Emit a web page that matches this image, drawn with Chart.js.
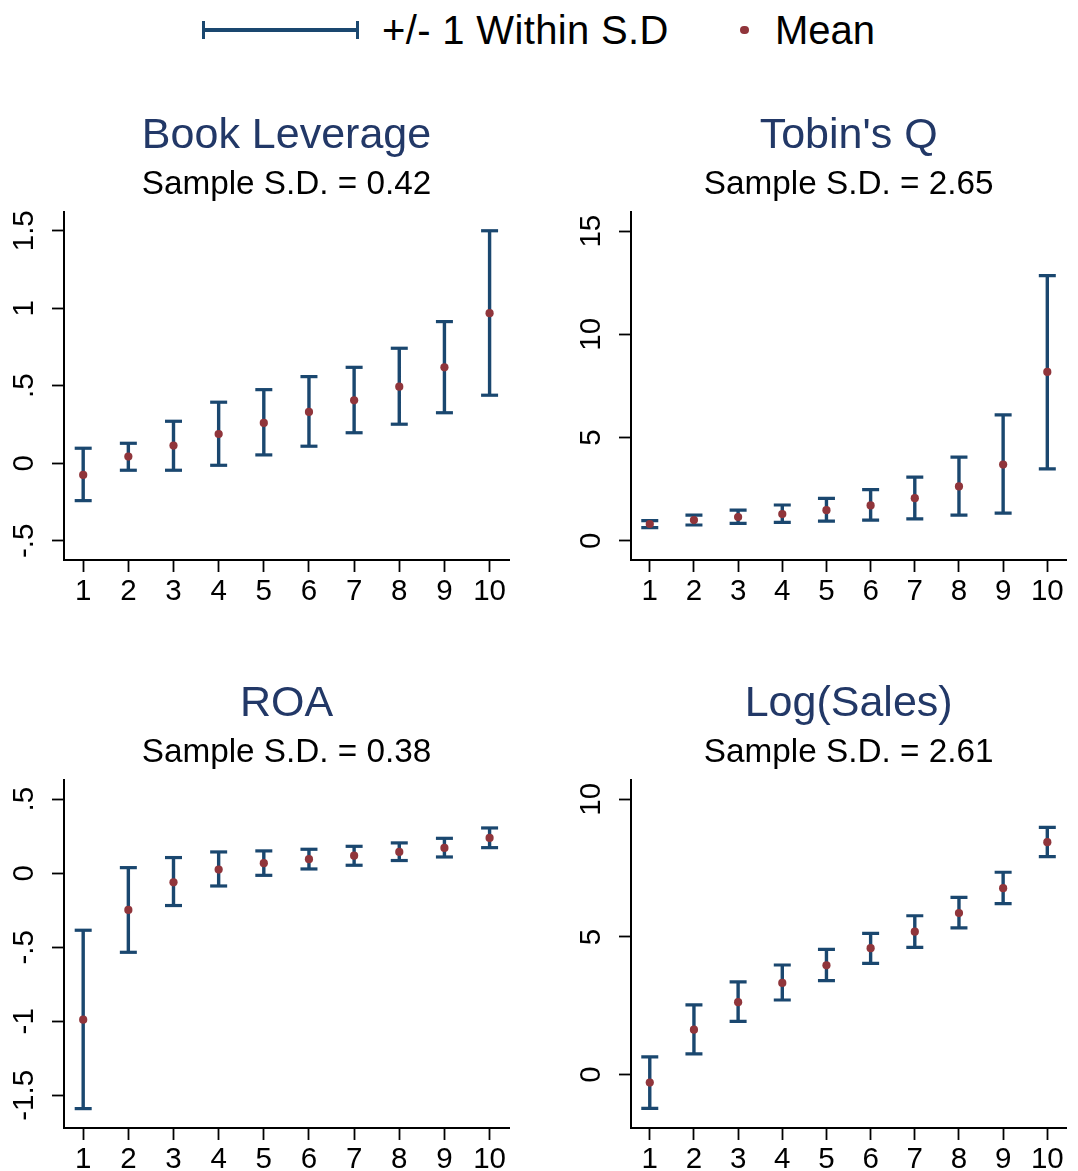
<!DOCTYPE html>
<html>
<head>
<meta charset="utf-8">
<script src="https://cdn.jsdelivr.net/npm/chart.js@4.4.1/dist/chart.umd.min.js"></script>
<style>
html, body { margin:0; padding:0; background:#fff; width:1078px; height:1171px; overflow:hidden; }
body { position:relative; font-family:"Liberation Sans", Arial, sans-serif; }
canvas { position:absolute; }
.leg { position:absolute; font-size:40px; line-height:40px; color:#000; white-space:nowrap; }
.sym { position:absolute; background:#1a476f; }
</style>
</head>
<body>
<div class="sym" style="left:202px;top:28px;width:157px;height:4px;"></div>
<div class="sym" style="left:202px;top:21px;width:3px;height:18px;"></div>
<div class="sym" style="left:356px;top:21px;width:3px;height:18px;"></div>
<div class="leg" style="left:382px;top:10px;letter-spacing:0.35px;">+/- 1 Within S.D</div>
<div style="position:absolute;left:740px;top:25.7px;width:8.6px;height:8.6px;border-radius:50%;background:#90353b;"></div>
<div class="leg" style="left:775px;top:10px;">Mean</div>

<canvas id="c1" width="539" height="503" style="left:0px;top:100px;"></canvas>
<canvas id="c2" width="539" height="503" style="left:539px;top:100px;"></canvas>
<canvas id="c3" width="539" height="503" style="left:0px;top:668px;"></canvas>
<canvas id="c4" width="539" height="503" style="left:539px;top:668px;"></canvas>

<script>
// ---------- data ----------
const categories = [1, 2, 3, 4, 5, 6, 7, 8, 9, 10];
const xTickLabels = ["1", "2", "3", "4", "5", "6", "7", "8", "9", "10"];

const bookLevMean = [-0.075, 0.043, 0.114, 0.189, 0.260, 0.331, 0.406, 0.494, 0.619, 0.968];
const bookLevLow  = [-0.241, -0.045, -0.045, -0.013, 0.054, 0.110, 0.197, 0.252, 0.326, 0.439];
const bookLevHigh = [0.097, 0.129, 0.271, 0.394, 0.475, 0.559, 0.619, 0.742, 0.914, 1.500];
const bookLevTicks = [-0.5, 0, 0.5, 1, 1.5];
const bookLevTickLabels = ["-.5", "0", ".5", "1", "1.5"];

const tobinMean = [0.81, 1.00, 1.15, 1.29, 1.48, 1.71, 2.06, 2.63, 3.69, 8.18];
const tobinLow  = [0.63, 0.76, 0.84, 0.89, 0.95, 1.00, 1.06, 1.24, 1.34, 3.48];
const tobinHigh = [0.97, 1.24, 1.48, 1.73, 2.05, 2.48, 3.08, 4.05, 6.10, 12.85];
const tobinTicks = [0, 5, 10, 15];
const tobinTickLabels = ["0", "5", "10", "15"];

const roaMean = [-0.989, -0.248, -0.061, 0.025, 0.068, 0.095, 0.119, 0.144, 0.171, 0.239];
const roaLow  = [-1.590, -0.534, -0.218, -0.086, -0.014, 0.029, 0.054, 0.086, 0.110, 0.173];
const roaHigh = [-0.385, 0.038, 0.106, 0.144, 0.151, 0.162, 0.182, 0.205, 0.236, 0.306];
const roaTicks = [-1.5, -1, -0.5, 0, 0.5];
const roaTickLabels = ["-1.5", "-1", "-.5", "0", ".5"];

const salesMean = [-0.29, 1.63, 2.63, 3.33, 3.97, 4.59, 5.19, 5.87, 6.77, 8.44];
const salesLow  = [-1.23, 0.75, 1.93, 2.71, 3.41, 4.04, 4.62, 5.33, 6.21, 7.92];
const salesHigh = [0.64, 2.53, 3.37, 3.98, 4.55, 5.13, 5.77, 6.44, 7.35, 8.98];
const salesTicks = [0, 5, 10];
const salesTickLabels = ["0", "5", "10"];

// ---------- styles ----------
const NAVY = '#1a476f';
const MAROON = '#90353b';
const TITLE_COLOR = '#223867';
const FAMILY = '"Liberation Sans", Arial, sans-serif';
const TICK_SIZE = 29.5;

function widest(labels) {
  const ctx = document.createElement('canvas').getContext('2d');
  ctx.font = TICK_SIZE + 'px ' + FAMILY;
  return Math.max(...labels.map(l => ctx.measureText(l).width));
}

function makePanel(id, title, subtitle, means, lows, highs, yMin, yMax, yTicks, yLabels, axisWidth, padRight) {
  const whisker = [];
  categories.forEach((c, i) => {
    whisker.push({x: c, y: lows[i]}, {x: c, y: highs[i]}, {x: c, y: null});
  });
  const tickLen = 12;
  const yPad = 39 - tickLen - widest(yLabels) / 2;

  new Chart(document.getElementById(id), {
    type: 'scatter',
    data: {
      datasets: [
        { type: 'scatter', data: categories.map((c, i) => ({x: c, y: means[i]})),
          pointStyle: 'circle', pointRadius: 4.1, pointHoverRadius: 4.1,
          backgroundColor: MAROON, borderWidth: 0, order: 0 },
        { type: 'scatter', data: categories.map((c, i) => ({x: c, y: highs[i]})),
          pointStyle: 'line', pointRadius: 8.5, pointHoverRadius: 8.5,
          borderColor: NAVY, backgroundColor: NAVY, borderWidth: 3.2, order: 1 },
        { type: 'scatter', data: categories.map((c, i) => ({x: c, y: lows[i]})),
          pointStyle: 'line', pointRadius: 8.5, pointHoverRadius: 8.5,
          borderColor: NAVY, backgroundColor: NAVY, borderWidth: 3.2, order: 1 },
        { type: 'line', data: whisker, borderColor: NAVY, borderWidth: 3.4,
          pointRadius: 0, pointHoverRadius: 0, spanGaps: false, fill: false, order: 2 }
      ]
    },
    options: {
      responsive: false,
      animation: false,
      devicePixelRatio: 1,
      events: [],
      layout: { padding: { left: 0, right: padRight, top: 0, bottom: 0 } },
      plugins: {
        legend: { display: false },
        tooltip: { enabled: false },
        title: { display: true, text: title, color: TITLE_COLOR, fullSize: false,
                 font: { family: FAMILY, size: 43, weight: 'normal', lineHeight: 1 },
                 padding: { top: 15, bottom: 0 } },
        subtitle: { display: true, text: subtitle, color: '#000', fullSize: false,
                    font: { family: FAMILY, size: 33.3, weight: 'normal', lineHeight: 1 },
                    padding: { top: 10.6, bottom: 10.1 } }
      },
      scales: {
        x: {
          type: 'linear', position: 'bottom', min: 0.575, max: 10.43,
          afterBuildTicks: s => { s.ticks = categories.map(v => ({value: v})); },
          afterFit: s => { s.height = 43; },
          ticks: { autoSkip: false, minRotation: 0, maxRotation: 0, padding: 4.8, color: '#000',
                   font: { family: FAMILY, size: TICK_SIZE, lineHeight: 1 },
                   callback: (v, i) => xTickLabels[i] },
          grid: { display: true, drawOnChartArea: false, drawTicks: true, tickLength: tickLen,
                  tickWidth: 1.8, tickColor: '#000', color: '#000' },
          border: { display: true, color: '#000', width: 2 }
        },
        y: {
          type: 'linear', position: 'left', min: yMin, max: yMax,
          afterBuildTicks: s => { s.ticks = yTicks.map(v => ({value: v})); },
          afterFit: s => { s.width = axisWidth; },
          ticks: { autoSkip: false, minRotation: 90, maxRotation: 90, crossAlign: 'center',
                   padding: yPad, color: '#000',
                   font: { family: FAMILY, size: TICK_SIZE, lineHeight: 1 },
                   callback: (v, i) => yLabels[i] },
          grid: { display: true, drawOnChartArea: false, drawTicks: true, tickLength: tickLen,
                  tickWidth: 1.8, tickColor: '#000', color: '#000' },
          border: { display: true, color: '#000', width: 2 }
        }
      }
    }
  });
}

makePanel('c1', 'Book Leverage', 'Sample S.D. = 0.42', bookLevMean, bookLevLow, bookLevHigh,
          -0.624, 1.621, bookLevTicks, bookLevTickLabels, 64, 30);
makePanel('c2', "Tobin's Q", 'Sample S.D. = 2.65', tobinMean, tobinLow, tobinHigh,
          -0.935, 15.93, tobinTicks, tobinTickLabels, 92, 2);
makePanel('c3', 'ROA', 'Sample S.D. = 0.38', roaMean, roaLow, roaHigh,
          -1.721, 0.630, roaTicks, roaTickLabels, 64, 30);
makePanel('c4', 'Log(Sales)', 'Sample S.D. = 2.61', salesMean, salesLow, salesHigh,
          -1.94, 10.70, salesTicks, salesTickLabels, 92, 2);
</script>
</body>
</html>
